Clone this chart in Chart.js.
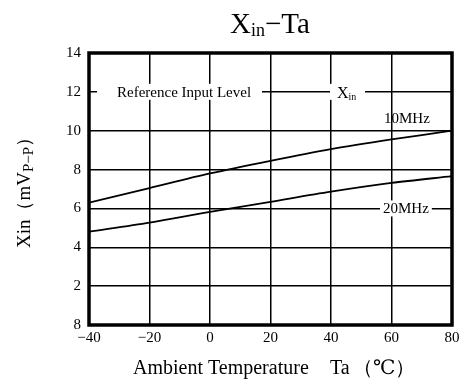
<!DOCTYPE html>
<html>
<head>
<meta charset="utf-8">
<script src="https://cdn.jsdelivr.net/npm/chart.js@4"></script>
<style>
  html, body { margin: 0; padding: 0; background: #fff; }
  #wrap { width: 459px; height: 381px; position: relative; }
</style>
</head>
<body>
<div id="wrap"><canvas id="xinChart" width="459" height="381"></canvas></div>
<script>
// temperatures (°C) and readings (mVp-p)
const temps = [-40, -20, 0, 20, 40, 60, 80];
const xin10MHz = [6.3, 7.05, 7.8, 8.45, 9.05, 9.55, 10.0];
const xin20MHz = [4.8, 5.27, 5.82, 6.34, 6.86, 7.31, 7.66];
const xTickLabels = ["\u221240", "\u221220", "0", "20", "40", "60", "80"];
const yTickLabels = { 0: "8", 2: "2", 4: "4", 6: "6", 8: "8", 10: "10", 12: "12", 14: "14" };
const refLevel = 12;

const SERIF = "'Liberation Serif', 'DejaVu Serif', serif";

// text with a subscript part
function drawSub(ctx, x, y, base, sub, rest, size, align) {
  ctx.font = size + "px " + SERIF;
  const wb = ctx.measureText(base).width;
  ctx.font = (size * 0.62) + "px " + SERIF;
  const ws = ctx.measureText(sub).width;
  ctx.font = size + "px " + SERIF;
  const wr = ctx.measureText(rest).width;
  let sx = x;
  if (align === "center") sx = x - (wb + ws + wr) / 2;
  ctx.textAlign = "left";
  ctx.textBaseline = "alphabetic";
  ctx.fillText(base, sx, y);
  ctx.font = (size * 0.62) + "px " + SERIF;
  ctx.fillText(sub, sx + wb, y + size * 0.12);
  ctx.font = size + "px " + SERIF;
  ctx.fillText(rest, sx + wb + ws, y);
  return wb + ws + wr;
}

const decorations = {
  id: "decorations",
  afterDatasetsDraw(chart) {
    const ctx = chart.ctx;
    const a = chart.chartArea;
    const ys = chart.scales.y;
    ctx.save();

    // labels on the reference line
    const yRef = ys.getPixelForValue(refLevel);
    ctx.fillStyle = "#fff";
    ctx.fillRect(a.left + 8, yRef - 8, 262 - (a.left + 8), 16);
    ctx.fillRect(330, yRef - 8, 35, 16);
    ctx.fillStyle = "#000";
    ctx.font = "15px " + SERIF;
    ctx.textAlign = "left";
    ctx.textBaseline = "middle";
    ctx.fillText("Reference Input Level", 117, yRef + 1);
    drawSub(ctx, 337, yRef + 6, "X", "in", "", 16, "left");

    // series labels
    ctx.font = "15px " + SERIF;
    ctx.textBaseline = "middle";
    ctx.textAlign = "left";
    ctx.fillText("10MHz", 384, ys.getPixelForValue(10.6));
    const y6 = ys.getPixelForValue(6);
    const lx = 383;
    const w = ctx.measureText("20MHz").width;
    ctx.fillStyle = "#fff";
    ctx.fillRect(lx - 3, y6 - 8, w + 6, 16);
    ctx.fillStyle = "#000";
    ctx.fillText("20MHz", lx, y6 + 1);

    // frame
    ctx.strokeStyle = "#000";
    ctx.lineWidth = 3.5;
    ctx.strokeRect(a.left, a.top, a.right - a.left, a.bottom - a.top);

    // title
    drawSub(ctx, 270, 33, "X", "in", "\u2212Ta", 29, "center");

    // x axis title
    ctx.font = "20px " + SERIF;
    ctx.textAlign = "left";
    ctx.textBaseline = "alphabetic";
    ctx.fillText("Ambient Temperature", 133, 374);
    ctx.fillText("Ta", 330, 374);
    ctx.fillText("\uFF08\u2103\uFF09", 353, 374);

    // y axis title
    ctx.translate(30, 188);
    ctx.rotate(-Math.PI / 2);
    ctx.font = "19px " + SERIF;
    const p1 = "Xin\uFF08mV";
    const w1 = ctx.measureText(p1).width;
    ctx.font = "15px " + SERIF;
    const w2 = ctx.measureText("P\u2212P").width;
    ctx.font = "19px " + SERIF;
    const w3 = ctx.measureText("\uFF09").width;
    let sx = -(w1 + w2 + w3) / 2;
    ctx.fillText(p1, sx, 0);
    ctx.font = "15px " + SERIF;
    ctx.fillText("P\u2212P", sx + w1, 3);
    ctx.font = "19px " + SERIF;
    ctx.fillText("\uFF09", sx + w1 + w2, 0);
    ctx.restore();
  }
};

new Chart(document.getElementById("xinChart"), {
  type: "line",
  data: {
    datasets: [
      {
        label: "10MHz",
        data: temps.map((t, i) => ({ x: t, y: xin10MHz[i] })),
        borderColor: "#000",
        borderWidth: 1.8,
        pointRadius: 0,
        tension: 0.3,
        fill: false,
      },
      {
        label: "20MHz",
        data: temps.map((t, i) => ({ x: t, y: xin20MHz[i] })),
        borderColor: "#000",
        borderWidth: 1.8,
        pointRadius: 0,
        tension: 0.3,
        fill: false,
      },
    ],
  },
  options: {
    responsive: false,
    animation: false,
    layout: { padding: { top: 53, right: 7, left: 0, bottom: 0 } },
    plugins: { legend: { display: false }, tooltip: { enabled: false } },
    scales: {
      x: {
        type: "linear",
        min: -40,
        max: 80,
        afterBuildTicks(s) { s.ticks = temps.map((v) => ({ value: v })); },
        afterFit(s) {
          s.height = 56;
          s.paddingLeft = 0;
          s.paddingRight = 0;
        },
        grid: { color: "#000", lineWidth: 1.5, drawTicks: false },
        border: { display: false },
        ticks: {
          padding: 4,
          color: "#000",
          font: { family: SERIF, size: 15 },
          maxRotation: 0,
          callback: (v) => xTickLabels[temps.indexOf(v)],
        },
      },
      y: {
        min: 0,
        max: 14,
        afterBuildTicks(s) {
          s.ticks = Object.keys(yTickLabels).map((v) => ({ value: Number(v) }));
        },
        afterFit(s) {
          s.width = 89;
          s.paddingTop = 0;
          s.paddingBottom = 0;
        },
        grid: { color: "#000", lineWidth: 1.5, drawTicks: false },
        border: { display: false },
        ticks: {
          padding: 8,
          color: "#000",
          font: { family: SERIF, size: 15 },
          callback: (v) => yTickLabels[v],
        },
      },
    },
  },
  plugins: [decorations],
});
</script>
</body>
</html>
